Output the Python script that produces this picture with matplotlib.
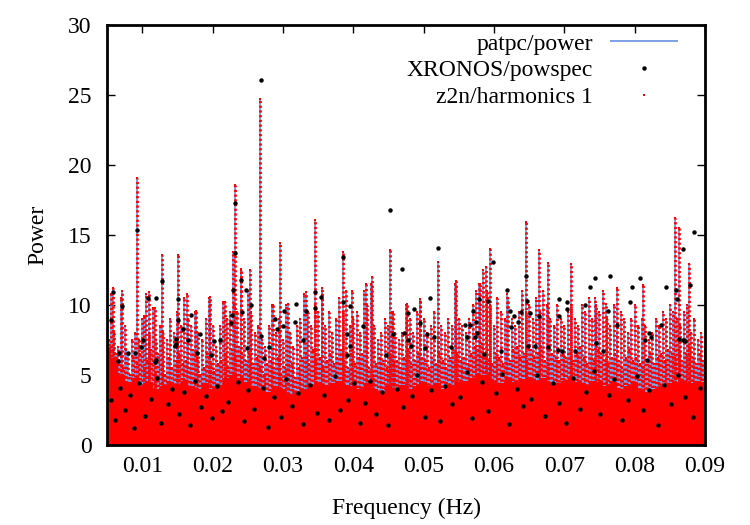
import matplotlib
matplotlib.use("Agg")
import matplotlib.pyplot as plt
import numpy as np

plt.rcParams['font.family'] = ['Liberation Serif', 'DejaVu Serif']
plt.rcParams['font.size'] = 17

BLUE = '#5a86e0'
RED = '#ff0000'

# dense floor of the spectrum (upper edge of the solid band), every 0.001 Hz
floor_f = np.arange(0.005, 0.09001, 0.001)
floor_p = [7.0, 6.2, 5.0, 4.5, 4.8, 4.2, 4.5, 4.0, 4.2, 4.5,
           4.3, 4.6, 4.2, 4.0, 4.4, 4.0, 4.3, 4.8, 5.0, 4.8,
           4.5, 4.2, 4.0, 3.8, 4.2, 4.0, 3.6, 3.8, 4.0, 4.3,
           4.5, 4.2, 4.4, 4.6, 4.3, 4.2, 4.0, 4.4, 4.0, 3.8,
           4.2, 4.0, 4.3, 4.0, 4.2, 4.5, 4.2, 4.4, 4.0, 4.3,
           4.5, 4.6, 4.8, 5.0, 5.0, 4.6, 4.4, 4.8, 4.5, 4.7,
           4.8, 4.6, 4.8, 4.5, 4.4, 4.6, 4.8, 4.5, 4.3, 4.6,
           4.5, 4.2, 4.4, 4.0, 4.2, 4.4, 4.0, 3.8, 4.0, 4.2,
           4.4, 4.5, 4.6, 4.4, 4.6, 4.5]

# medium spikes, every 0.0005 Hz
mid_f = np.arange(0.005, 0.09001, 0.0005)
mid_p = [9.5, 10.8, 8.0, 7.0, 10.5, 8.5, 6.5, 7.5, 8.0, 7.5,
         9.0, 10.8, 8.0, 9.8, 7.5, 8.5, 8.0, 7.5, 9.0, 8.0,
         9.5, 8.5, 10.5, 9.0, 8.5, 9.5, 8.0, 7.5, 9.0, 10.5,
         8.5, 7.0, 8.5, 10.2, 9.0, 9.5, 10.0, 9.5, 12.5, 9.0,
         11.0, 9.5, 8.0, 8.5, 7.5, 7.0, 8.5, 10.0, 8.0, 9.0,
         7.5, 10.0, 8.0, 7.0, 8.5, 9.0, 10.8, 9.5, 8.5, 10.0,
         9.5, 11.0, 8.5, 9.5, 8.0, 9.0, 10.5, 9.5, 11.0, 8.5,
         9.0, 9.5, 8.0, 11.0, 10.0, 11.5, 8.5, 7.5, 8.0, 9.0,
         8.5, 9.5, 8.0, 7.5, 8.0, 10.0, 9.0, 8.0, 9.5, 10.4,
         9.0, 8.0, 8.5, 9.5, 8.0, 8.5, 8.0, 9.0, 8.5, 11.5,
         9.0, 8.5, 8.0, 9.0, 10.0, 11.0, 11.5, 12.5, 11.0, 10.0,
         8.5, 10.5, 9.5, 9.0, 10.5, 9.0, 8.5, 9.5, 11.0, 9.5,
         10.0, 9.0, 10.5, 9.5, 11.0, 10.0, 9.0, 8.5, 10.0, 9.0,
         8.5, 9.5, 10.0, 9.0, 8.5, 10.0, 9.5, 10.5, 9.0, 10.0,
         9.5, 11.0, 9.0, 8.5, 10.0, 8.0, 9.5, 9.0, 8.0, 9.0,
         10.0, 8.5, 9.0, 8.5, 7.5, 8.0, 9.0, 8.5, 9.5, 9.0,
         10.0, 9.5, 9.0, 8.5, 9.5, 10.0, 8.0, 9.0, 7.5, 8.0, 7.0]

# lower spikes, between the medium ones
low_f = np.arange(0.00525, 0.09, 0.0005)
low_p = [7.5, 7.0, 6.5, 6.0, 5.5, 6.8, 5.0, 6.2, 5.8, 6.5,
         5.5, 6.0, 6.8, 5.2, 6.5, 5.8, 5.0, 6.2, 5.5, 6.0,
         6.5, 5.8, 6.0, 5.5, 6.8, 6.2, 5.0, 5.5, 6.5, 5.8,
         5.2, 5.8, 6.0, 6.5, 5.5, 6.8, 6.2, 7.0, 6.5, 6.0,
         6.5, 5.8, 6.2, 5.5, 5.0, 5.8, 6.0, 5.5, 6.2, 5.0,
         5.5, 6.0, 5.8, 4.8, 5.5, 6.2, 6.5, 5.8, 6.8, 6.0,
         6.2, 5.5, 6.0, 6.5, 5.8, 6.2, 6.8, 6.0, 5.5, 6.5,
         5.8, 6.2, 6.5, 6.0, 5.5, 5.0, 5.8, 6.2, 6.0, 5.5,
         6.5, 5.8, 6.0, 5.5, 6.2, 6.8, 5.8, 6.0, 6.5, 6.2,
         6.0, 5.5, 6.2, 5.8, 6.5, 6.0, 5.5, 6.2, 6.8, 6.5,
         6.0, 6.2, 5.8, 6.5, 7.0, 6.8, 7.2, 6.5, 6.0, 5.8,
         6.5, 6.2, 5.8, 6.5, 6.0, 6.8, 7.0, 6.2, 6.5, 6.0,
         6.8, 6.2, 6.5, 7.0, 6.0, 5.8, 6.5, 6.2, 6.0, 6.5,
         6.2, 6.8, 6.0, 6.5, 7.0, 6.2, 5.8, 6.5, 6.0, 6.8,
         6.5, 6.0, 5.8, 6.2, 6.5, 6.0, 5.5, 6.2, 6.8, 6.0,
         6.2, 5.8, 5.5, 6.0, 6.5, 5.8, 6.2, 6.5, 6.0, 6.8,
         6.5, 6.2, 6.8, 6.0, 6.5, 7.0, 6.2, 5.8, 6.5, 6.0]

# tall peaks
peak_f = [0.0059, 0.0071, 0.0092, 0.0102, 0.0109, 0.0118, 0.0128, 0.0151, 0.0163, 0.0177,
          0.0197, 0.0218, 0.0229, 0.0232, 0.0240, 0.0253, 0.0267, 0.0286, 0.0296, 0.0307,
          0.0333, 0.0346, 0.0355, 0.0385, 0.0398, 0.0418, 0.0427, 0.0452, 0.0457, 0.0477,
          0.0495, 0.0520, 0.0546, 0.0579, 0.0589, 0.0594, 0.0619, 0.0645, 0.0664, 0.0677,
          0.0709, 0.0743, 0.0759, 0.0775, 0.0812, 0.0858, 0.0863, 0.0877]
peak_p = [11.2, 11.0, 19.1, 9.2, 10.9, 9.8, 13.6, 13.6, 10.8, 9.6,
          10.6, 10.2, 13.8, 18.6, 12.6, 12.5, 24.7, 10.0, 14.4, 10.1,
          10.9, 16.1, 11.2, 13.8, 11.0, 11.5, 12.0, 13.9, 9.5, 10.1,
          10.4, 13.1, 11.7, 11.5, 12.7, 14.0, 10.8, 15.9, 13.9, 13.0,
          12.9, 10.5, 10.1, 11.2, 11.4, 16.2, 15.5, 12.9]

# XRONOS/powspec points standing out above the band
xr_hi_f = [0.00921, 0.01276, 0.01511, 0.01191, 0.02316, 0.0232, 0.02482, 0.02543, 0.0240, 0.02273,
           0.02883, 0.03015, 0.03181, 0.03333, 0.00708, 0.0059, 0.00557, 0.01511, 0.01687, 0.01819,
           0.01583, 0.02022, 0.01644, 0.01772, 0.00674, 0.01015, 0.01086, 0.02268, 0.03001, 0.03285,
           0.02684, 0.02802, 0.01191, 0.02684, 0.04524, 0.04689, 0.05200, 0.05980, 0.03852, 0.03455,
           0.03455, 0.03545, 0.03852, 0.03947, 0.05091, 0.04869, 0.04774, 0.04145, 0.05050, 0.05696,
           0.05743, 0.06192, 0.06230, 0.06287, 0.06390, 0.06453, 0.06467, 0.06514, 0.06642, 0.06926,
           0.07034, 0.07034, 0.04951, 0.04469, 0.04562, 0.04774, 0.0579, 0.05909, 0.05622, 0.05859,
           0.0884, 0.08684, 0.07649, 0.07432, 0.07365, 0.08074, 0.07957, 0.08439, 0.0859, 0.08784,
           0.07294, 0.07928, 0.07625, 0.08368, 0.08202, 0.08141, 0.08604, 0.08689, 0.07744, 0.07446,
           0.06926, 0.07149, 0.05752, 0.05733, 0.05663, 0.06102, 0.06249, 0.06338, 0.06479, 0.06580,
           0.06771, 0.06908, 0.06964, 0.07546, 0.08177, 0.08631, 0.08716, 0.08230, 0.04818, 0.04720,
           0.05025, 0.05150, 0.05383, 0.05585, 0.03168, 0.02910, 0.02494, 0.02414, 0.02291, 0.02112,
           0.01978, 0.01477, 0.01478, 0.00978, 0.00902, 0.00796, 0.00659, 0.01177, 0.01471, 0.03914,
           0.03960, 0.03905, 0.02736]
xr_hi_p = [15.35, 11.7, 10.4, 10.5, 17.3, 13.7, 11.1, 10.0, 11.8, 9.3,
           9.0, 9.6, 10.1, 9.6, 9.9, 10.9, 8.9, 8.9, 9.3, 7.9,
           8.3, 7.4, 7.5, 6.6, 6.6, 7.5, 10.5, 8.7, 8.5, 7.5,
           7.8, 7.0, 6.1, 26.1, 16.8, 12.6, 14.1, 13.1, 13.4, 10.9,
           9.8, 10.6, 10.2, 9.9, 10.5, 9.7, 9.4, 8.5, 7.9, 9.6,
           8.8, 11.1, 9.6, 9.2, 9.5, 12.1, 10.3, 9.4, 9.2, 10.4,
           10.2, 9.7, 8.7, 6.4, 7.9, 7.5, 10.4, 10.3, 7.7, 6.5,
           15.2, 14.0, 12.1, 11.9, 11.3, 11.9, 11.3, 11.3, 11.1, 11.4,
           10.0, 10.2, 9.6, 8.6, 8.0, 7.5, 10.4, 7.5, 8.6, 7.3,
           9.2, 6.7, 8.0, 7.7, 8.6, 6.7, 8.4, 8.8, 7.1, 7.1,
           7.0, 6.8, 6.7, 6.7, 6.1, 7.6, 7.4, 7.7, 7.1, 8.0,
           6.9, 7.7, 7.0, 8.6, 8.8, 8.3, 6.9, 9.5, 11.1, 7.5,
           6.4, 7.6, 7.2, 7.0, 6.6, 6.6, 6.0, 5.9, 7.1, 7.9,
           7.1, 6.4, 6.2]

# XRONOS/powspec points inside the band
xr_lo_f = [0.0055, 0.0062, 0.0068, 0.0075, 0.0083, 0.0088, 0.0096, 0.0104, 0.0112, 0.0121,
           0.0127, 0.0136, 0.0143, 0.0152, 0.0160, 0.0168, 0.0175, 0.0184, 0.0191, 0.0199,
           0.0207, 0.0214, 0.0222, 0.0236, 0.0244, 0.0251, 0.0259, 0.0272, 0.0279, 0.0288,
           0.0297, 0.0305, 0.0313, 0.0321, 0.0329, 0.0338, 0.0349, 0.0358, 0.0366, 0.0374,
           0.0381, 0.0392, 0.0401, 0.0409, 0.0416, 0.0424, 0.0433, 0.0441, 0.0449, 0.0462,
           0.0471, 0.0483, 0.0491, 0.0502, 0.0511, 0.0523, 0.0531, 0.0540, 0.0552, 0.0561,
           0.0569, 0.0583, 0.0592, 0.0603, 0.0612, 0.0621, 0.0633, 0.0641, 0.0652, 0.0661,
           0.0672, 0.0684, 0.0693, 0.0702, 0.0713, 0.0722, 0.0731, 0.0742, 0.0751, 0.0763,
           0.0771, 0.0782, 0.0791, 0.0803, 0.0812, 0.0821, 0.0833, 0.0842, 0.0851, 0.0862,
           0.0871, 0.0883, 0.0893]
xr_lo_p = [3.2, 1.8, 4.1, 2.5, 3.6, 1.2, 4.4, 2.1, 3.3, 4.8,
           1.6, 2.9, 4.0, 2.2, 3.8, 1.4, 4.6, 2.7, 3.5, 1.9,
           4.2, 2.4, 3.1, 4.5, 1.7, 3.9, 2.6, 4.1, 1.3, 3.4,
           2.0, 4.7, 2.8, 3.7, 1.5, 4.3, 2.3, 3.6, 1.8, 4.9,
           2.5, 3.2, 4.4, 1.6, 3.0, 4.6, 2.2, 3.8, 1.4, 4.0,
           2.7, 3.5, 5.0, 2.0, 3.9, 1.7, 4.2, 2.9, 3.4, 5.2,
           1.9, 4.5, 2.4, 3.7, 5.1, 1.5, 4.0, 2.8, 3.3, 5.0,
           2.1, 4.4, 3.0, 1.6, 4.8, 2.6, 3.8, 5.3, 2.2, 3.6,
           4.7, 1.8, 3.2, 4.9, 2.5, 3.9, 1.4, 4.3, 2.9, 5.0,
           3.4, 2.0, 4.1]

fig = plt.figure(figsize=(7.5, 5.25), dpi=100)
ax = fig.add_axes([0.1427, 0.1524, 0.7973, 0.80])

# red dots along each spike; phase is shifted from spike to spike
dot_styles = [(0, (0.8, 0.9)), (0.55, (0.8, 0.9)), (1.1, (0.8, 0.9)),
              (0.3, (0.8, 0.9)), (0.85, (0.8, 0.9)), (1.4, (0.8, 0.9))]

line_h = None
red_h = None
for fs, ps in [(low_f, low_p), (mid_f, mid_p), (peak_f, peak_p)]:
    lh = ax.vlines(fs, 0, ps, color=BLUE, lw=1.1, zorder=2)
    ax.vlines(fs, 0, ps, color=RED, lw=2.0, linestyles=dot_styles, zorder=3)
    rh, = ax.plot(fs, ps, 's', color=RED, ms=2.0, mew=0, zorder=3)
    line_h = lh
    red_h = rh

ax.fill_between(floor_f, 0, floor_p, step='mid', color=RED, lw=0, zorder=4)

xr_h, = ax.plot(list(xr_hi_f) + list(xr_lo_f), list(xr_hi_p) + list(xr_lo_p), 'o',
                color='black', ms=3.2, mew=0, zorder=5)

ax.set_xlim(0.005, 0.09)
ax.set_ylim(0, 30)
ax.set_xticks([0.01, 0.02, 0.03, 0.04, 0.05, 0.06, 0.07, 0.08, 0.09])
ax.set_xticklabels(['0.01', '0.02', '0.03', '0.04', '0.05', '0.06', '0.07', '0.08', '0.09'])
ax.set_yticks([0, 5, 10, 15, 20, 25, 30])
ax.tick_params(direction='in', length=6, width=1.0, top=True, right=True)
ax.tick_params(axis='x', pad=8)
ax.tick_params(axis='y', pad=11)
for s in ax.spines.values():
    s.set_linewidth(2.0)
    s.set_zorder(6)

ax.set_xlabel('Frequency (Hz)', labelpad=15)
ax.set_ylabel('Power', labelpad=14)

leg = ax.legend([line_h, xr_h, red_h],
                ['patpc/power', 'XRONOS/powspec', 'z2n/harmonics 1'],
                loc='upper right', bbox_to_anchor=(678 / 750, 1 - 33 / 525),
                bbox_transform=fig.transFigure, frameon=False, markerfirst=False,
                handlelength=2.9, handletextpad=0.7, labelspacing=0.22,
                borderpad=0, borderaxespad=0, fontsize=17, markerscale=1.0)
for t in leg.get_texts():
    t.set_ha('right')

fig.savefig('out.png', dpi=100)
